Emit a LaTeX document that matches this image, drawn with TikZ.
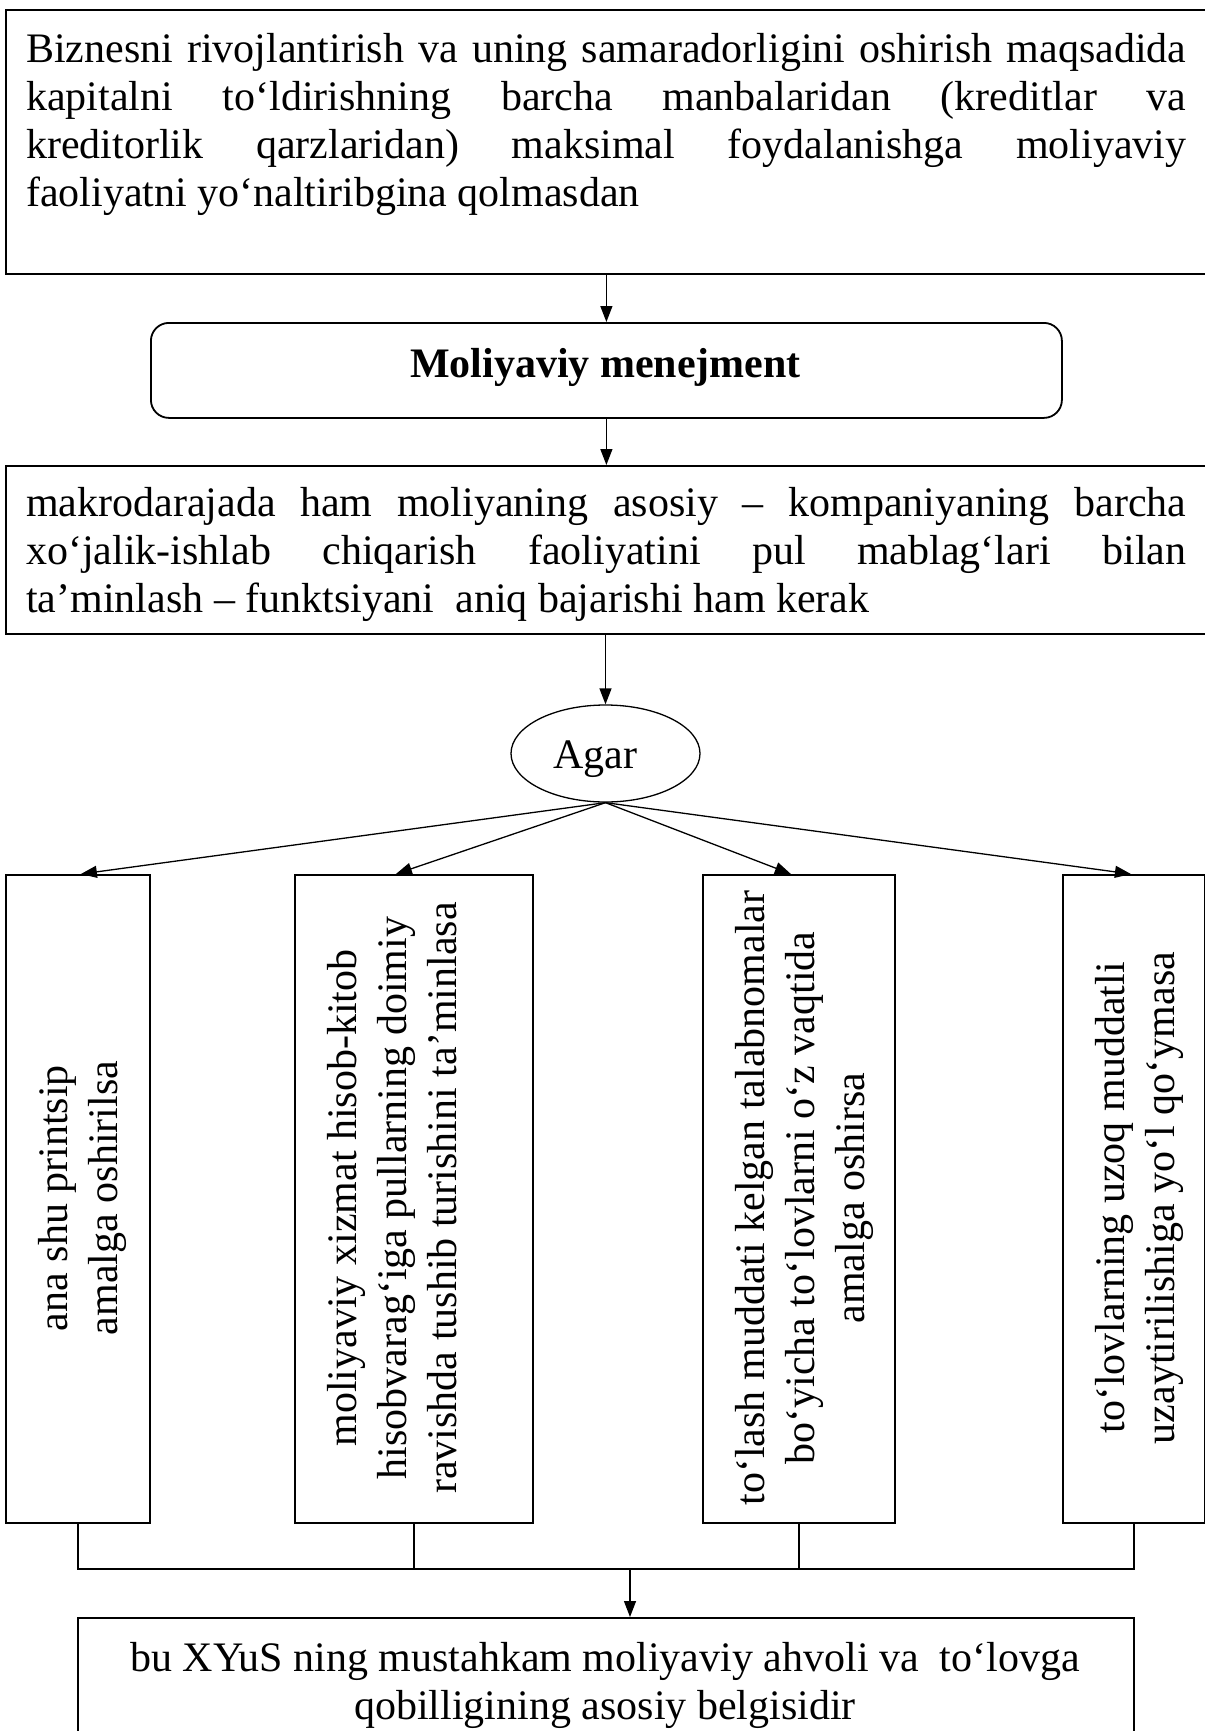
\documentclass[tikz,border=0pt]{standalone}
\usepackage{fontspec}
\setmainfont{Liberation Serif}
\usetikzlibrary{arrows.meta,shapes.geometric}
\begin{document}
\begin{tikzpicture}[x=1pt,y=-1pt,
  boxst/.style={draw, line width=1.8pt, rectangle, inner sep=0pt, anchor=north west},
  conn/.style={line width=1.3pt},
  thickconn/.style={line width=2pt},
  arr/.style={conn, -{Triangle[length=16pt,width=12pt]}},
  txt/.style={inner sep=0pt, font=\fontsize{42}{48}\selectfont},
  vtxt/.style={inner sep=0pt, rotate=90, anchor=base, font=\fontsize{42}{50}\selectfont}]
\useasboundingbox[fill=white] (0,0) rectangle (1204,1731);

% top box
\node[boxst, minimum width=1215pt, minimum height=264pt] (top) at (5,9) {};
\node[txt, anchor=base west] (toptext) at (26,63) {\parbox[t]{1160pt}{\tolerance=10000 \hbadness=10000 \hyphenpenalty=10000
Biznesni rivojlantirish va uning samaradorligini oshirish maqsadida\linebreak
kapitalni to‘ldirishning barcha manbalaridan (kreditlar va\linebreak
kreditorlik qarzlaridan) maksimal foydalanishga moliyaviy\linebreak
faoliyatni yo‘naltiribgina qolmasdan}};

% rounded box
\node[boxst, rounded corners=18pt, minimum width=911pt, minimum height=95pt] (mm) at (150,322) {};
\node[txt, anchor=base, font=\fontsize{42}{48}\selectfont\bfseries] (mmtext) at (605.5,377) {Moliyaviy menejment};

% middle box
\node[boxst, minimum width=1215pt, minimum height=168pt] (mid) at (5,465) {};
\node[txt, anchor=base west] (midtext) at (26,516) {\parbox[t]{1160pt}{\tolerance=10000 \hbadness=10000 \hyphenpenalty=10000
makrodarajada ham moliyaning asosiy – kompaniyaning barcha\linebreak
xo‘jalik-ishlab chiqarish faoliyatini pul mablag‘lari bilan\linebreak
ta’minlash – funktsiyani\ \ aniq bajarishi ham kerak}};

% ellipse
\node[draw, ellipse, line width=1.3pt, minimum width=189pt, minimum height=97pt, inner sep=0pt,
      font=\fontsize{42}{48}\selectfont] (agar) at (605.5,753.5) {\raisebox{-6pt}[\height][\depth]{Agar}\hspace*{21pt}};

% vertical boxes
\node[boxst, minimum width=144pt, minimum height=648pt] (bA) at (5,874) {};
\node[boxst, minimum width=238pt, minimum height=648pt] (bB) at (294,874) {};
\node[boxst, minimum width=192pt, minimum height=648pt] (bC) at (702,874) {};
\node[boxst, minimum width=142pt, minimum height=648pt] (bD) at (1062,874) {};

\node[vtxt] (tA) at (67,1198) {\parbox[t]{640pt}{\centering ana shu printsip\\amalga oshirilsa}};
\node[vtxt] (tB) at (356,1198) {\parbox[t]{640pt}{\centering moliyaviy xizmat hisob-kitob\\hisobvarag‘iga pullarning doimiy\\ravishda tushib turishini ta’minlasa}};
\node[vtxt] (tC) at (764,1198) {\parbox[t]{640pt}{\centering to‘lash muddati kelgan talabnomalar\\bo‘yicha to‘lovlarni o‘z vaqtida\\amalga oshirsa}};
\node[vtxt] (tD) at (1124,1198) {\parbox[t]{640pt}{\centering to‘lovlarning uzoq muddatli\\uzaytirilishiga yo‘l qo‘ymasa}};

% bottom box
\node[boxst, minimum width=1056pt, minimum height=150pt] (bot) at (77,1617) {};
\node[txt, anchor=base] (bottext) at (605,1671) {\parbox[t]{1040pt}{\centering bu XYuS ning mustahkam moliyaviy ahvoli va\ \ to‘lovga\\qobilligining asosiy belgisidir}};

% connectors
\draw[arr] (mm.north |- top.south) -- (mm.north);
\draw[arr] (mm.south) -- (mm.south |- mid.north);
\draw[arr] (agar.north |- mid.south) -- (agar.north);
\draw[arr] (agar.south) -- ([xshift=3pt]bA.north);
\draw[arr] (agar.south) -- ([xshift=-18pt]bB.north);
\draw[arr] (agar.south) -- ([xshift=-8pt]bC.north);
\draw[arr] (agar.south) -- ([xshift=-3pt]bD.north);

\coordinate (j) at (630,1569);
\draw[thickconn] (bA.south) |- (j) -| (bD.south);
\draw[conn] (bB.south) -- (bB.south |- j);
\draw[conn] (bC.south) -- (bC.south |- j);
\draw[arr] (j) -- (j |- bot.north);
\end{tikzpicture}
\end{document}
